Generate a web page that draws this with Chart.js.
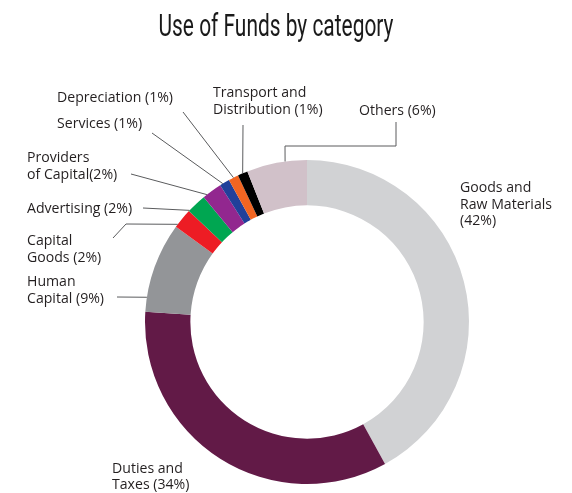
<!DOCTYPE html>
<html>
<head>
<meta charset="utf-8">
<script src="https://cdn.jsdelivr.net/npm/chart.js@4"></script>
<style>
  html, body { margin: 0; padding: 0; background: #fff; }
  #wrap { width: 572px; height: 493px; position: relative; }
</style>
</head>
<body>
<div id="wrap"><canvas id="fundsChart"></canvas></div>
<script>
// slices, clockwise from 12 o'clock
const categories = ['Goods and Raw Materials', 'Duties and Taxes', 'Human Capital', 'Capital Goods',
    'Advertising', 'Providers of Capital', 'Services', 'Depreciation', 'Transport and Distribution', 'Others'];
const shares = [42, 34, 9, 2, 2, 2, 1, 1, 1, 6];
const colors = ['#d1d2d4', '#621a47', '#939598', '#ed1c24', '#00a651', '#92278f', '#21409a', '#f26522', '#000000', '#d1c1c9'];

// label text as printed, {v} gets the share
const labelLines = [
    ['Goods and', 'Raw Materials', '({v}%)'],
    ['Duties and', 'Taxes ({v}%)'],
    ['Human', 'Capital ({v}%)'],
    ['Capital', 'Goods ({v}%)'],
    ['Advertising ({v}%)'],
    ['Providers', 'of Capital({v}%)'],
    ['Services ({v}%)'],
    ['Depreciation ({v}%)'],
    ['Transport and', 'Distribution ({v}%)'],
    ['Others ({v}%)']
];

// where each label sits and how its leader runs to the ring
// at = position inside the slice (0..1) where the leader touches
const callouts = [
    { x: 460, y: 192, lead: null },
    { x: 112, y: 472.5, lead: null },
    { x: 27, y: 286, lead: [[117, 297]], at: 0.16 },
    { x: 27, y: 245, lead: [[113, 238], [126, 224]], at: 0.15 },
    { x: 27, y: 212.5, lead: [[143, 208]], at: 0.05 },
    { x: 27, y: 162, lead: [[131, 174]], at: 0.2 },
    { x: 57, y: 128, lead: [[152, 133]], at: 0.3 },
    { x: 57, y: 102, lead: [[183, 112]], at: 0.5 },
    { x: 213, y: 97, lead: [[243, 125]], at: 0.5 },
    { x: 359, y: 115, lead: [[396, 122], [396, 146], [285, 146]], at: 0.64 }
];

const titleText = 'Use of Funds by category';

const calloutPlugin = {
    id: 'callouts',
    afterDraw(chart) {
        const ctx = chart.ctx;
        const arcs = chart.getDatasetMeta(0).data;
        ctx.save();

        // leaders
        ctx.strokeStyle = '#5a5b5d';
        ctx.lineWidth = 1;
        callouts.forEach((c, i) => {
            if (!c.lead) return;
            const arc = arcs[i];
            const a = arc.startAngle + (arc.endAngle - arc.startAngle) * c.at;
            const ex = arc.x + arc.outerRadius * Math.cos(a);
            const ey = arc.y + arc.outerRadius * Math.sin(a);
            ctx.beginPath();
            ctx.moveTo(c.lead[0][0], c.lead[0][1]);
            for (let k = 1; k < c.lead.length; k++) ctx.lineTo(c.lead[k][0], c.lead[k][1]);
            ctx.lineTo(ex, ey);
            ctx.stroke();
        });

        // label text, slightly narrowed
        ctx.fillStyle = '#231f20';
        ctx.font = '15px "Open Sans"';
        ctx.textAlign = 'left';
        ctx.textBaseline = 'alphabetic';
        callouts.forEach((c, i) => {
            labelLines[i].forEach((line, k) => {
                ctx.save();
                ctx.translate(c.x, c.y + k * 16.5);
                ctx.scale(0.94, 1);
                ctx.fillText(line.replace('{v}', shares[i]), 0, 0);
                ctx.restore();
            });
        });

        // condensed title
        ctx.font = '400 32px Roboto';
        const w = ctx.measureText(titleText).width;
        ctx.translate(276, 36);
        ctx.scale(235 / w, 1);
        ctx.textAlign = 'center';
        ctx.fillStyle = '#1a1a1a';
        ctx.fillText(titleText, 0, 0);
        ctx.restore();
    }
};

new Chart(document.getElementById('fundsChart'), {
    type: 'doughnut',
    data: {
        labels: categories,
        datasets: [{
            data: shares,
            backgroundColor: colors,
            borderWidth: 0,
            hoverOffset: 0,
            offset: 0
        }]
    },
    options: {
        responsive: true,
        maintainAspectRatio: false,
        animation: false,
        cutout: '72%',
        layout: { padding: { left: 145, top: 160, right: 103, bottom: 9 } },
        plugins: {
            legend: { display: false },
            tooltip: { enabled: false }
        }
    },
    plugins: [calloutPlugin]
});
</script>
</body>
</html>
